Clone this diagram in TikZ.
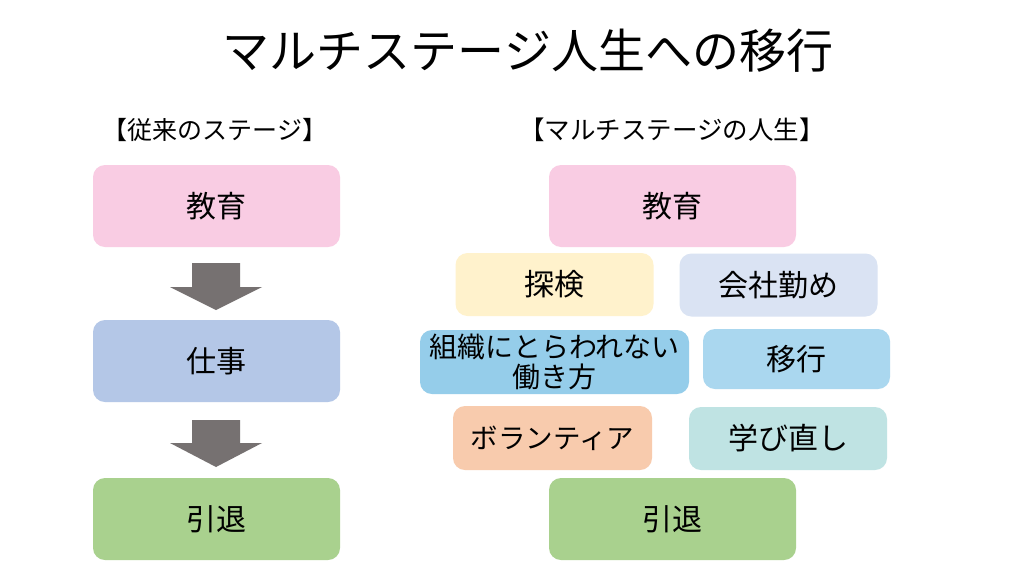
\documentclass[tikz,border=0pt]{standalone}
\usepackage{fontspec}
\setmainfont{Noto Sans CJK JP}
\definecolor{cpink}{HTML}{F9CCE3}
\definecolor{cwork}{HTML}{B4C7E7}
\definecolor{cgreen}{HTML}{A9D18E}
\definecolor{cyellow}{HTML}{FFF2CC}
\definecolor{clav}{HTML}{DAE3F3}
\definecolor{csky}{HTML}{95CDEA}
\definecolor{clight}{HTML}{AAD7EF}
\definecolor{corange}{HTML}{F8CBAD}
\definecolor{cteal}{HTML}{BFE3E3}
\definecolor{carrow}{HTML}{767171}
\begin{document}
\begin{tikzpicture}[x=1pt,y=-1pt,
  box/.style={rounded corners=12pt, inner sep=0pt, align=center, text=black},
  bigbox/.style={box, minimum width=247pt, minimum height=82pt, font=\fontsize{30}{32}\selectfont},
  smallbox/.style={box, minimum height=63pt, font=\fontsize{30}{32}\selectfont},
  blockarrow/.style={fill=carrow}]
\useasboundingbox (0,0) rectangle (1024,576);
\fill[white] (0,0) rectangle (1024,576);

\node (title) at (528,51) {\fontsize{47}{50}\selectfont マルチステージ人生への移行};
\node (subL) at (215,130) {\fontsize{25}{28}\selectfont 【従来のステージ】};
\node (subR) at (672,130) {\fontsize{25.5}{28}\selectfont 【マルチステージの人生】};

% left column
\node[bigbox, fill=cpink] (edu1) at (216.5,206) {教育};
\node[bigbox, fill=cwork] (work) at (216.5,361) {仕事};
\node[bigbox, fill=cgreen] (ret1) at (216.5,519) {引退};

\fill[blockarrow] (192,263) -- (240,263) -- (240,287) -- (262,287) -- (216,310) -- (170,287) -- (192,287) -- cycle;
\fill[blockarrow] (192,420) -- (240,420) -- (240,443) -- (262,443) -- (216,467) -- (170,443) -- (192,443) -- cycle;

% right column
\node[bigbox, fill=cpink] (edu2) at (672.5,206) {教育};
\node[smallbox, fill=cyellow, minimum width=198pt] (expl) at (554.5,284.5) {探検};
\node[smallbox, fill=clav, minimum width=198pt] (comp) at (778.5,285) {会社勤め};
\node[smallbox, fill=csky, minimum width=269pt, minimum height=64pt, font=\fontsize{28}{30}\selectfont] (free) at (554.5,362) {組織にとらわれない\\働き方};
\node[smallbox, fill=clight, minimum width=187pt, minimum height=60pt] (trans) at (796.5,359) {移行};
\node[smallbox, fill=corange, minimum width=199pt, minimum height=64pt, font=\fontsize{27.5}{29}\selectfont] (vol) at (552.5,438) {ボランティア};
\node[smallbox, fill=cteal, minimum width=198pt, minimum height=63pt] (relearn) at (788,438.5) {学び直し};
\node[bigbox, fill=cgreen] (ret2) at (672.5,519) {引退};
\end{tikzpicture}
\end{document}
